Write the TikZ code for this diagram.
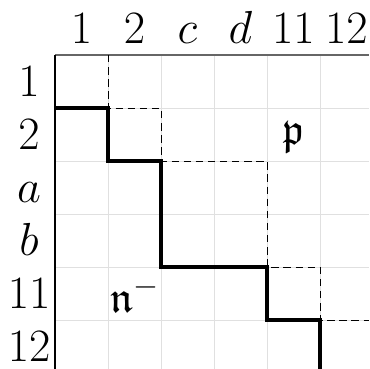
\documentclass[tikz,border=0pt]{standalone}
\usepackage{amssymb}
\tikzset{
  gridline/.style={draw=black!12, line width=0.5pt},
  axisline/.style={line width=0.6pt},
  stair/.style={line width=2.2pt, line join=miter},
  dashline/.style={line width=0.5pt, dash pattern=on 4pt off 2.5pt},
  lbl/.style={anchor=base, inner sep=0pt, font=\fontsize{23.6}{28}\selectfont},
}
\begin{document}
\begin{tikzpicture}[x=1cm,y=-1cm]
\useasboundingbox (-1.038,-1.038) rectangle (5.925,5.925);
\draw[gridline] (0,0) grid (5.925,5.925);
\draw[axisline, draw=black!60] (0,0) -- (5.925,0);
\draw[axisline] (0,0) -- (0,5.925);
% column labels
\foreach \t [count=\i from 0] in {1,2,c,d,11,12}
  \node[lbl] (col\i) at (\i+0.5,-0.226) {$\t$};
% row labels
\foreach \t [count=\i from 0] in {1,2,a,b,11,12}
  \node[lbl] (row\i) at (-0.49,\i+0.5+0.29) {$\t$};
\draw[dashline] (1,0) -- (1,1) -- (2,1) -- (2,2) -- (4,2) -- (4,4) -- (5,4) -- (5,5) -- (5.925,5);
\draw[stair] (0,1) -| (1,2) -| (2,4) -| (4,5) -| (5,5.925);
\node[lbl] (p) at (4.5,1.69) {$\mathfrak{p}$};
\node[lbl] (n) at (1.5,4.85) {$\mathfrak{n}^-$};
\end{tikzpicture}
\end{document}
